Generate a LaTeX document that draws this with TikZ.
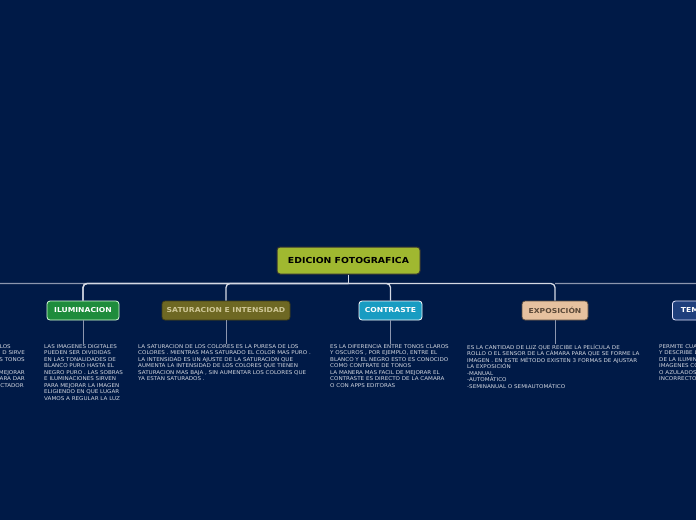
\documentclass[tikz,border=0pt]{standalone}
\usepackage{fontspec}
\setmainfont{DejaVu Sans}
\newfontfamily\bodyfont[FakeStretch=1.08]{DejaVu Sans}
\newfontfamily\labelfont[FakeStretch=1.12]{DejaVu Sans}
\definecolor{bg}{HTML}{001A47}
\definecolor{txt}{HTML}{D3D7E0}
\definecolor{linelight}{HTML}{D5D9E4}
\definecolor{linegray}{HTML}{8C96AE}
\definecolor{rootfill}{HTML}{A0B830}
\definecolor{ilufill}{HTML}{1E8C3C}
\definecolor{satfill}{HTML}{6E6823}
\definecolor{sattext}{HTML}{CFC796}
\definecolor{confill}{HTML}{189CC2}
\definecolor{expfill}{HTML}{E6C19F}
\definecolor{exptext}{HTML}{5A4838}
\definecolor{temfill}{HTML}{1F3F7C}
\tikzset{
  rootbox/.style={draw=black!80, line width=1pt, fill=rootfill, rounded corners=3pt,
    minimum width=143pt, minimum height=27pt, inner sep=0pt, text=black,
    font=\labelfont\fontsize{8.3}{9}\selectfont\bfseries},
  childbox/.style={rounded corners=3pt, line width=0.8pt, minimum height=19pt, inner sep=0pt,
    font=\labelfont\fontsize{6.8}{8}\selectfont\bfseries},
  bodytext/.style={font=\bodyfont\fontsize{5.2}{6.5}\selectfont, text=txt, align=left, inner sep=0pt, anchor=north west},
  conn/.style={draw=linelight, line width=1.3pt, rounded corners=4pt},
  conngray/.style={draw=linegray, line width=1.3pt, rounded corners=4pt},
  stem/.style={draw=linegray, line width=0.8pt}
}
\begin{document}
\begin{tikzpicture}[x=1pt,y=-1pt]
\path[fill=bg] (0,0) rectangle (696,520);
\clip (0,0) rectangle (696,520);

\node[rootbox] (root) at (348.5,260.5) {EDICION FOTOGRAFICA};

\node[childbox, draw=white!85!green, fill=ilufill, text=white, minimum width=72pt] (ilu) at (83,310.5) {ILUMINACION};
\node[childbox, draw=black!40!satfill, fill=satfill, text=sattext, minimum width=128pt] (sat) at (226,310.5) {SATURACION E INTENSIDAD};
\node[childbox, draw=white, fill=confill, text=white, minimum width=63pt] (con) at (390.5,310.5) {CONTRASTE};
\node[childbox, draw=black!60!expfill, fill=expfill, text=exptext, minimum width=66pt] (exp) at (555,310.5) {EXPOSICIÓN};
\node[childbox, draw=white!90!blue, fill=temfill, text=white, minimum width=80pt, anchor=west] (tem) at (672,310.5) {TEMPERATURA};
\coordinate (left) at (-60,301);

\coordinate (j) at (348.5,283.5);
\draw[conn] (root.south) -- (j);
\draw[conngray] (j) -| (left);
\draw[conn] (j) -| (ilu.north);
\draw[conn] (j) -| (sat.north);
\draw[conn] (j) -| (con.north);
\draw[conn] (j) -| (exp.north);
\draw[conngray] (exp.north |- j) -| (tem.north);
\draw[conn] (j) -| (ilu.north);

\node[bodytext] (iluT) at (44,344) {LAS IMAGENES DIGITALES\\PUEDEN SER DIVIDIDAS\\EN LAS TONALIDADES DE\\BLANCO PURO HASTA EL\\NEGRO PURO . LAS SOBRAS\\E ILUMINACIONES SIRVEN\\PARA MEJORAR LA IMAGEN\\ELIGIENDO EN QUE LUGAR\\VAMOS A REGULAR LA LUZ};
\node[bodytext] (satT) at (138,344) {LA SATURACION DE LOS COLORES ES LA PURESA DE LOS\\COLORES . MIENTRAS MAS SATURADO EL COLOR MAS PURO .\\LA INTENSIDAD ES UN AJUSTE DE LA SATURACION QUE\\AUMENTA LA INTENSIDAD DE LOS COLORES QUE TIENEN\\SATURACION MAS BAJA , SIN AUMENTAR LOS COLORES QUE\\YA ESTAN SATURADOS .};
\node[bodytext] (conT) at (330,344) {ES LA DIFERENCIA ENTRE TONOS CLAROS\\Y OSCUROS , POR EJEMPLO, ENTRE EL\\BLANCO Y EL NEGRO ESTO ES CONOCIDO\\COMO CONTRATE DE TONOS\\LA MANERA MAS FACIL DE MEJORAR EL\\CONTRASTE ES DIRECTO DE LA CAMARA\\O CON APPS EDITORAS};
\node[bodytext] (expT) at (467,344) {ES LA CANTIDAD DE LUZ QUE RECIBE LA PELÍCULA DE\\ROLLO O EL SENSOR DE LA CÁMARA PARA QUE SE FORME LA\\IMAGEN . EN ESTE MÉTODO EXISTEN 3 FORMAS DE AJUSTAR\\LA EXPOSICIÓN\\-MANUAL\\-AUTOMÁTICO\\-SEMINANUAL O SEMIAUTOMÁTICO};
\node[bodytext] (temT) at (659,344) {PERMITE CUANTIFICAR\\Y DESCRIBE LA\\DE LA ILUMINACION\\IMAGENES CON\\O AZULADOS\\INCORRECTOS};
\node[bodytext, align=right, anchor=north east] (leftT) at (25,344) {LOS\rule{14pt}{0pt}\\D SIRVE\\S TONOS\\ \\MEJORAR\\ARA DAR\\CTADOR\rule{1pt}{0pt}};

\draw[stem] (ilu.south) -- (ilu.south |- iluT.north);
\draw[stem] (sat.south) -- (sat.south |- satT.north);
\draw[stem] (con.south) -- (con.south |- conT.north);
\draw[stem] (exp.south) -- (exp.south |- expT.north);
\end{tikzpicture}
\end{document}
